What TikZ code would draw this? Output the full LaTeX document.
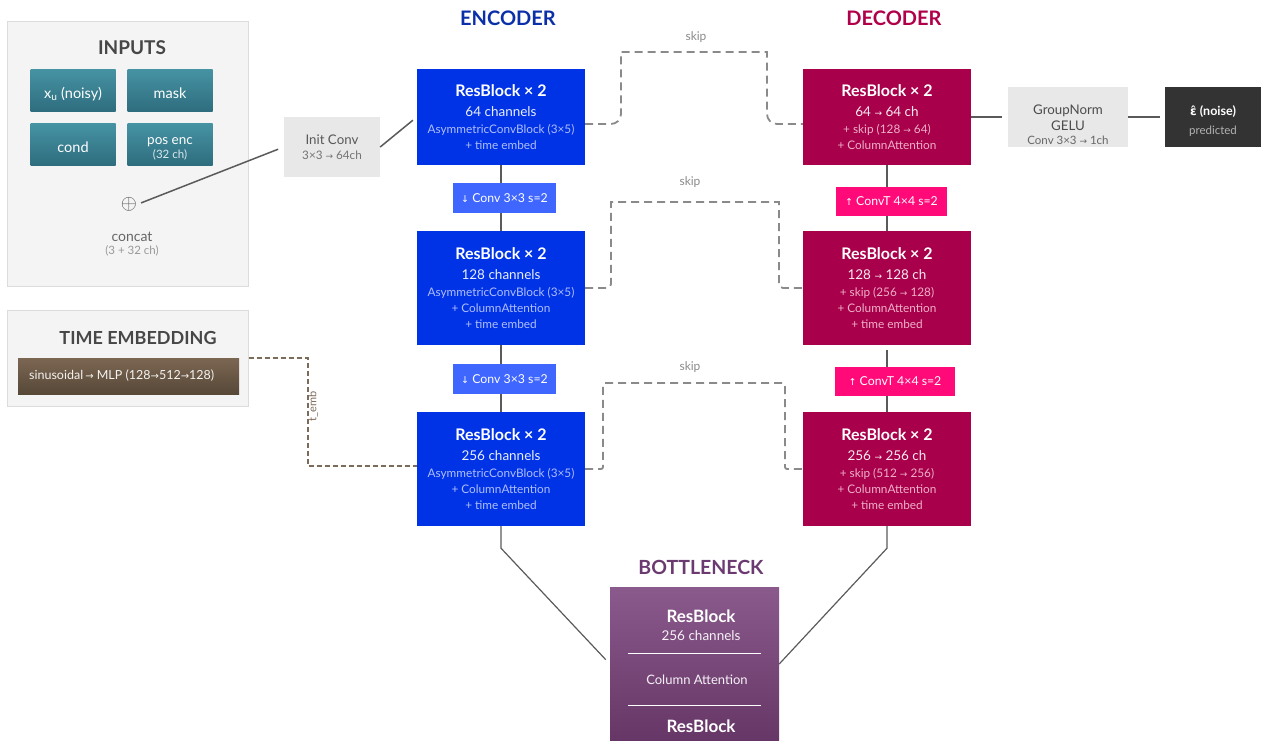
\documentclass[tikz,border=0pt]{standalone}
\usepackage{fontspec}
\setmainfont{Lato}
\newfontfamily\symb{DejaVu Sans}
\usepackage{tikz}
\usetikzlibrary{positioning,calc}

\definecolor{encblue}{HTML}{0033E6}
\definecolor{enclight}{HTML}{3F66FF}
\definecolor{enctitle}{HTML}{0A2FA8}
\definecolor{encsub}{HTML}{B0BEFF}
\definecolor{decred}{HTML}{A8004A}
\definecolor{decpink}{HTML}{FF0A78}
\definecolor{dectitle}{HTML}{B0004A}
\definecolor{decsub}{HTML}{EFB0C8}
\definecolor{tealA}{HTML}{4693A4}
\definecolor{tealB}{HTML}{2E6D7E}
\definecolor{brownA}{HTML}{7B6652}
\definecolor{brownB}{HTML}{574838}
\definecolor{purpA}{HTML}{8A5A8D}
\definecolor{purpB}{HTML}{663666}
\definecolor{bntitle}{HTML}{6B3A70}
\definecolor{panelgray}{HTML}{F4F4F4}
\definecolor{panelline}{HTML}{DCDCDC}
\definecolor{boxgray}{HTML}{E8E8E8}
\definecolor{darkbox}{HTML}{333333}
\definecolor{skipgray}{HTML}{8A8A8A}
\definecolor{embbrown}{HTML}{7D6B5A}
\definecolor{linkgray}{HTML}{5A5A5A}

\newcommand{\toarr}{{\symb\fontsize{9}{9}\selectfont →}}
\newcommand{\uparr}{{\symb\fontsize{9.5}{9.5}\selectfont ↑}}
\newcommand{\dnarr}{{\symb\fontsize{9.5}{9.5}\selectfont ↓}}
\newcommand{\btitle}{\fontsize{16}{16}\selectfont\bfseries}
\newcommand{\bmain}{\fontsize{13.5}{16}\selectfont}

\tikzset{
  panel/.style={rectangle, draw=panelline, fill=panelgray, line width=1pt, inner sep=0pt},
  head/.style={font=\fontsize{20}{22}\selectfont\bfseries},
  inbox/.style={rectangle, inner sep=0pt, minimum width=85pt, minimum height=42pt,
    top color=tealA, bottom color=tealB, text=white, font=\fontsize{14.5}{16}\selectfont,
    text height=17pt, text depth=0pt},
  encblock/.style={rectangle, fill=encblue, inner sep=0pt, minimum width=168pt, align=center,
    text=encsub, font=\fontsize{11.8}{16}\selectfont},
  decblock/.style={rectangle, fill=decred, inner sep=0pt, minimum width=168pt, align=center,
    text=decsub, font=\fontsize{11.8}{16}\selectfont},
  downbox/.style={rectangle, fill=enclight, inner sep=0pt, minimum width=103pt, minimum height=30pt,
    text=white, font=\fontsize{12.3}{14}\selectfont},
  upbox/.style={rectangle, fill=decpink, inner sep=0pt, minimum height=29pt,
    text=white, font=\fontsize{12.3}{14}\selectfont},
  graybox/.style={rectangle, fill=boxgray, inner sep=0pt, minimum height=60pt, align=center,
    text=black!70, font=\fontsize{13.3}{16}\selectfont},
  link/.style={draw=linkgray, line width=1.5pt},
  skipline/.style={draw=skipgray, line width=1.8pt, dash pattern=on 8pt off 5pt},
  skiplabel/.style={text=skipgray, font=\fontsize{12}{14}\selectfont},
}

\begin{document}
\begin{tikzpicture}[x=1pt,y=-1pt]
\useasboundingbox (0,0) rectangle (1261,740);

% inputs panel
\node[panel, minimum width=241pt, minimum height=265pt] (inputs) at (127.5,153.5) {};
\node[head, font=\fontsize{19}{22}\selectfont\bfseries, text=black!72] (inputstitle) at (132,48) {INPUTS};
\node[inbox] (xu) at (73,90) {x\textsubscript{u} (noisy)};
\node[inbox] (mask) at (170,90) {mask};
\node[inbox] (cond) at (73,144) {cond};
\node[inbox] (pos) at (170,144) {};
\node[align=center, text=white, font=\fontsize{13.5}{14}\selectfont, inner sep=0pt] (postext) at (170,149)
  {pos enc\\{\fontsize{11.5}{12}\selectfont\color{white!80!tealA}(32 ch)}};
\node[text=black!65, font=\fontsize{21}{21}\selectfont, inner sep=1pt] (cat) at (129,204) {$\oplus$};
\node[text=black!60, font=\fontsize{14}{16}\selectfont] (catlabel) at (132,237) {concat};
\node[text=black!40, font=\fontsize{11.5}{13}\selectfont] (catch) at (132,251) {(3 + 32 ch)};

% time embedding panel
\node[panel, minimum width=241pt, minimum height=96pt] (tpanel) at (127.5,358) {};
\node[head, font=\fontsize{18}{22}\selectfont\bfseries, text=black!72] (ttitle) at (138,338) {TIME EMBEDDING};
\node[rectangle, inner sep=0pt, minimum width=221pt, minimum height=36pt,
  top color=brownA, bottom color=brownB] (mlp) at (128.5,376) {};
\node[anchor=west, text=white!92!brownA, font=\fontsize{12.5}{14}\selectfont, inner sep=0pt]
  (mlptext) at (29,376) {sinusoidal\,{\symb\fontsize{10}{10}\selectfont→} MLP
  (128{\symb\fontsize{10}{10}\selectfont→}512{\symb\fontsize{10}{10}\selectfont→}128)};

% init conv
\node[graybox, minimum width=96pt, text=black!65] (init) at (332,147)
  {Init Conv\\[-1pt]{\fontsize{11.7}{12}\selectfont\color{black!55}3×3 \toarr\ 64ch}};

% encoder
\node[head, text=enctitle] (enctitle) at (508,18) {ENCODER};
\node[encblock, minimum height=96pt] (e1) at (501,117)
  {{\btitle\color{white}ResBlock × 2}\\[4pt]{\bmain\color{white!92!encblue}64 channels}\\[1pt]
   AsymmetricConvBlock (3×5)\\+ time embed};
\node[encblock, minimum height=114pt] (e2) at (501,288)
  {{\btitle\color{white}ResBlock × 2}\\[4pt]{\bmain\color{white!92!encblue}128 channels}\\[1pt]
   AsymmetricConvBlock (3×5)\\+ ColumnAttention\\+ time embed};
\node[encblock, minimum height=114pt] (e3) at (501,469)
  {{\btitle\color{white}ResBlock × 2}\\[4pt]{\bmain\color{white!92!encblue}256 channels}\\[1pt]
   AsymmetricConvBlock (3×5)\\+ ColumnAttention\\+ time embed};
\node[downbox] (dn1) at (504.5,198) {\dnarr\ Conv 3×3 s=2};
\node[downbox] (dn2) at (504.5,379) {\dnarr\ Conv 3×3 s=2};

% decoder
\node[head, text=dectitle] (dectitle) at (894,18) {DECODER};
\node[decblock, minimum height=96pt] (d1) at (887,117)
  {{\btitle\color{white}ResBlock × 2}\\[4pt]{\bmain\color{white!92!decred}64 \toarr\ 64 ch}\\[1pt]
   + skip (128 \toarr\ 64)\\+ ColumnAttention};
\node[decblock, minimum height=114pt] (d2) at (887,288)
  {{\btitle\color{white}ResBlock × 2}\\[4pt]{\bmain\color{white!92!decred}128 \toarr\ 128 ch}\\[1pt]
   + skip (256 \toarr\ 128)\\+ ColumnAttention\\+ time embed};
\node[decblock, minimum height=114pt] (d3) at (887,469)
  {{\btitle\color{white}ResBlock × 2}\\[4pt]{\bmain\color{white!92!decred}256 \toarr\ 256 ch}\\[1pt]
   + skip (512 \toarr\ 256)\\+ ColumnAttention\\+ time embed};
\node[upbox, minimum width=111pt] (up1) at (891.5,201.5) {\uparr\ ConvT 4×4 s=2};
\node[upbox, minimum width=120pt] (up2) at (895,381.5) {\uparr\ ConvT 4×4 s=2};

% output head
\node[graybox, minimum width=120pt] (gn) at (1068,117) {};
\node[align=center, text=black!70, font=\fontsize{13.3}{16}\selectfont, inner sep=0pt] (gntext) at ($(gn)+(0,8)$)
  {GroupNorm\\GELU\\[-2pt]{\fontsize{11.5}{12}\selectfont\color{black!60}Conv 3×3 \toarr\ 1ch}};
\node[rectangle, fill=darkbox, inner sep=0pt, minimum width=96pt, minimum height=60pt] (out) at (1213,117) {};
\node[align=center, text=white, font=\fontsize{12.5}{19}\selectfont\bfseries, inner sep=0pt] (outtext)
  at ($(out)+(0,4.5)$)
  {{\symb\fontsize{12}{12}\selectfont ε̂} (noise)\\{\fontsize{11.5}{12}\selectfont\mdseries\color{black!30}predicted}};

% bottleneck
\node[head, font=\fontsize{19.5}{22}\selectfont\bfseries, text=bntitle] (bntitle) at (701,567) {BOTTLENECK};
\node[rectangle, inner sep=0pt, minimum width=169pt, minimum height=154pt,
  top color=purpA, bottom color=purpB] (bn) at (694.5,664) {};
\node[text=white, font=\fontsize{17}{18}\selectfont\bfseries] (bnres1) at (701,616) {ResBlock};
\node[text=white!92!purpA, font=\fontsize{13.5}{15}\selectfont] (bnch) at (701,636) {256 channels};
\node[text=white!92!purpA, font=\fontsize{13}{15}\selectfont] (bnattn) at (697,680) {Column Attention};
\node[text=white, font=\fontsize{17}{18}\selectfont\bfseries] (bnres2) at (701,726) {ResBlock};
\draw[white, line width=1pt] (628,653) -- (761,653);
\draw[white, line width=1pt] (628,705) -- (761,705);

% solid connectors
\draw[link, shorten <=3pt, shorten >=6pt] (cat.east) -- (init.west);
\draw[link, shorten >=5pt] (init.east) -- (e1.west);
\draw[link] (e1.south) -- (e1.south |- dn1.north);
\draw[link] (e1.south |- dn1.south) -- (e2.north);
\draw[link] (e2.south) -- (e2.south |- dn2.north);
\draw[link] (e2.south |- dn2.south) -- (e3.north);
\draw[link] (d1.south) -- (d1.south |- up1.north);
\draw[link] (d1.south |- up1.south) -- (d2.north);
\draw[link, shorten <=5pt] (d2.south) -- (d2.south |- up2.north);
\draw[link] (d2.south |- up2.south) -- (d3.north);
\draw[link, shorten >=6pt] (d1.east) -- (gn.west);
\draw[link, shorten >=5pt] (gn.east) -- (out.west);
\draw[link, line width=1.2pt, shorten >=6pt] (e3.south) -- ++(0,22) -- (bn.west);
\draw[link, line width=1.2pt] (d3.south) -- ++(0,22) -- (bn.east);

% skip connections
\draw[skipline, rounded corners=10pt] ([yshift=-7pt]e1.east) -- (621,124) -- (621,90)
  [sharp corners] -- (621,52) -- (767,52) -- (767,90)
  [rounded corners=10pt] -- (767,124) -- ([yshift=-7pt]d1.west);
\node[skiplabel] (skip1) at (696,37) {skip};
\draw[skipline, rounded corners=4pt] (e2.east) -- (611,288) -- (611,240)
  [sharp corners] -- (611,202) -- (779,202) -- (779,240)
  [rounded corners=4pt] -- (779,288) -- (d2.west);
\node[skiplabel] (skip2) at (690,182) {skip};
\draw[skipline, rounded corners=2pt] (e3.east) -| (603,383) -- (785,383) |- (d3.west);
\node[skiplabel] (skip3) at (690,367) {skip};

% time embedding into encoder
\draw[embbrown, line width=1.5pt, dash pattern=on 5pt off 3pt] (tpanel.east) -- (308,358) -- (308,466)
  -- ([yshift=3pt]e3.west);
\node[rotate=90, text=embbrown, font=\fontsize{11}{12}\selectfont, inner sep=0pt] (tembl) at (313,406) {t\_emb};

\end{tikzpicture}
\end{document}
